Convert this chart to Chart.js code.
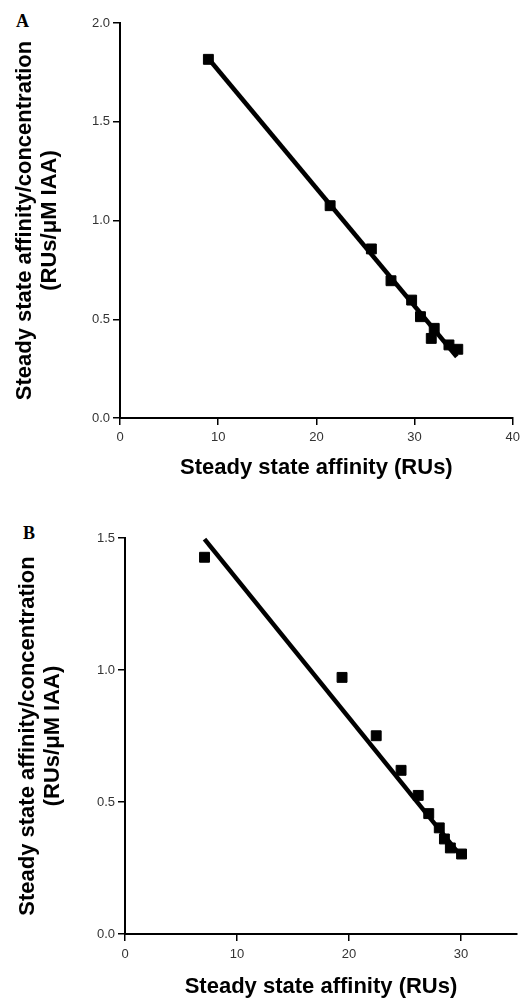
<!DOCTYPE html>
<html>
<head>
<meta charset="utf-8">
<script src="https://cdn.jsdelivr.net/npm/chart.js@4.4.1/dist/chart.umd.min.js"></script>
<style>
  html, body { margin: 0; padding: 0; background: #fff; overflow: hidden; }
  body { width: 525px; height: 998px; position: relative; }
  .panel { position: absolute; left: 0; width: 525px; }
  .letter { position: absolute; font-family: "Liberation Serif", "Times New Roman", serif; font-weight: bold; font-size: 18px; line-height: 18px; color: #000; }
</style>
</head>
<body>
<div class="letter" style="left:16px; top:12px;">A</div>
<div class="letter" style="left:23px; top:524px;">B</div>
<div class="panel" style="top:0; height:490px;"><canvas id="chartA"></canvas></div>
<div class="panel" style="top:490px; height:520px;"><canvas id="chartB"></canvas></div>
<script>
// Panel A: measured points + fitted line
const xA = [9.0, 21.4, 25.6, 27.6, 29.7, 30.6, 32.0, 31.7, 33.5, 34.4];
const yA = [1.816, 1.075, 0.856, 0.695, 0.597, 0.513, 0.454, 0.403, 0.370, 0.348];
const fitXA = [9.0, 34.3];
const fitYA = [1.82, 0.31];

// Panel B
const xB = [7.10, 19.38, 22.43, 24.65, 26.18, 27.12, 28.06, 28.52, 29.05, 30.05];
const yB = [1.427, 0.972, 0.751, 0.620, 0.525, 0.456, 0.402, 0.360, 0.326, 0.303];
const fitXB = [7.1, 29.9];
const fitYB = [1.496, 0.300];

const X_TITLE = 'Steady state affinity (RUs)';
const Y_TITLE = ['Steady state affinity/concentration', '(RUs/\u03BCM IAA)'];
const TITLE_FONT = { family: 'Liberation Sans, Arial, sans-serif', size: 22, weight: 'bold', lineHeight: 1.12 };
const TICK_FONT = { family: 'Liberation Sans, Arial, sans-serif', size: 13 };

const to_points = (xs, ys) => xs.map((x, i) => ({ x: x, y: ys[i] }));

function make_chart(id, xs, ys, fx, fy, opt) {
    const ctx = document.getElementById(id).getContext('2d');
    return new Chart(ctx, {
        type: 'scatter',
        data: {
            datasets: [
                { data: to_points(fx, fy), showLine: true, borderColor: '#000', borderWidth: 4.5, pointRadius: 0, clip: false },
                { data: to_points(xs, ys), pointStyle: 'rect', pointRadius: 7, backgroundColor: '#000', borderColor: '#000', borderWidth: 1, clip: false }
            ]
        },
        options: {
            responsive: true,
            maintainAspectRatio: false,
            animation: false,
            layout: { padding: opt.padding },
            plugins: { legend: { display: false }, tooltip: { enabled: false } },
            scales: {
                x: {
                    type: 'linear', min: 0, max: opt.xMax, bounds: 'data',
                    border: { color: '#000', width: 2 },
                    grid: { drawOnChartArea: false, drawTicks: true, tickLength: 7, color: '#000', lineWidth: 1.5 },
                    ticks: { stepSize: 10, padding: opt.xTickPad, color: '#333', font: TICK_FONT, maxRotation: 0 },
                    afterBuildTicks: (s) => { s.ticks = s.ticks.filter(t => t.value % 10 === 0); },
                    title: { display: true, text: X_TITLE, color: '#000', font: TITLE_FONT, padding: { top: 0, bottom: opt.xTitlePad } },
                    afterFit: (s) => { s.height = opt.xHeight; }
                },
                y: {
                    type: 'linear', min: 0, max: opt.yMax,
                    border: { color: '#000', width: 2 },
                    grid: { drawOnChartArea: false, drawTicks: true, tickLength: 7, color: '#000', lineWidth: 1.5 },
                    ticks: { stepSize: 0.5, padding: 3, color: '#333', font: TICK_FONT, callback: (v) => v.toFixed(1) },
                    title: { display: true, text: Y_TITLE, color: '#000', font: TITLE_FONT, padding: { top: opt.yTitlePad, bottom: 0 } },
                    afterFit: (s) => { s.width = opt.yWidth; }
                }
            }
        }
    });
}

make_chart('chartA', xA, yA, fitXA, fitYA, {
    xMax: 40, yMax: 2.0,
    padding: { top: 23, right: 8, left: 0, bottom: 0 },
    xHeight: 72, yWidth: 120, xTickPad: 5, xTitlePad: 9.7, yTitlePad: 12.7
});

make_chart('chartB', xB, yB, fitXB, fitYB, {
    xMax: 35, yMax: 1.5,
    padding: { top: 48, right: 2, left: 0, bottom: 0 },
    xHeight: 76, yWidth: 125, xTickPad: 6, xTitlePad: 10.7, yTitlePad: 15.7
});
</script>
</body>
</html>
